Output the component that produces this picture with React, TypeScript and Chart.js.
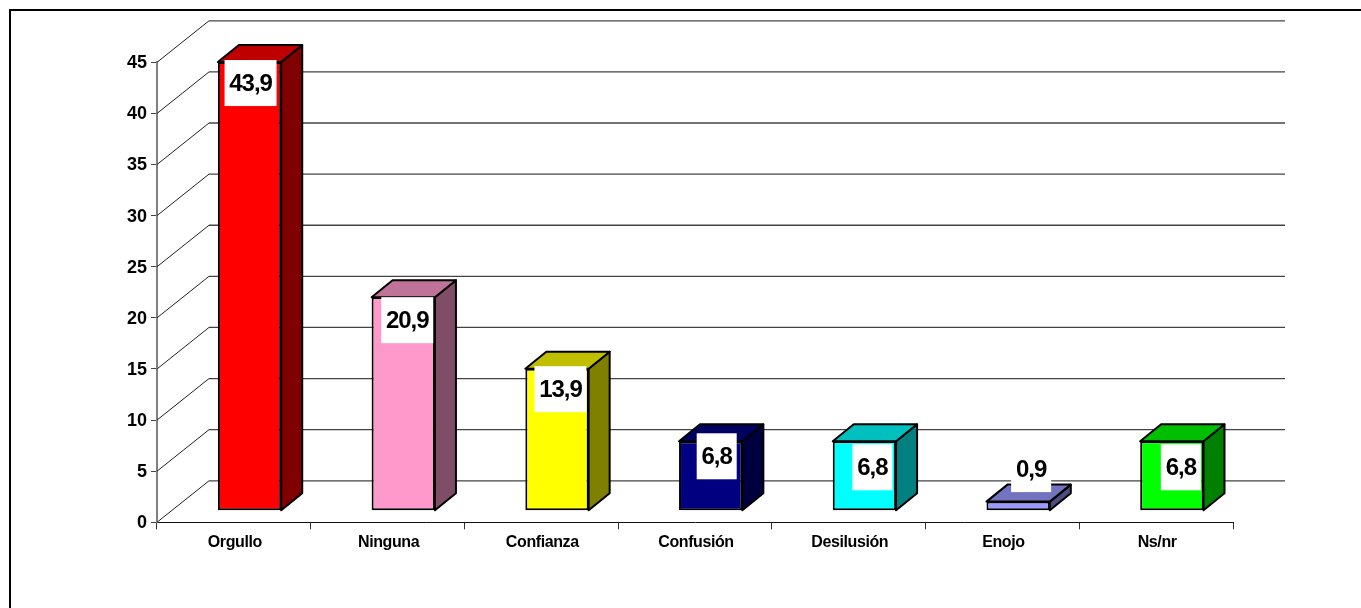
import React, { useEffect, useRef } from "react";
import { Chart, registerables } from "chart.js";

Chart.register(...registerables);

const categories = ["Orgullo", "Ninguna", "Confianza", "Confusión", "Desilusión", "Enojo", "Ns/nr"];
const values = [43.9, 20.9, 13.9, 6.8, 6.8, 0.9, 6.8];
const valueLabels = ["43,9", "20,9", "13,9", "6,8", "6,8", "0,9", "6,8"];
const frontColors = ["#ff0000", "#ff99cc", "#ffff00", "#000080", "#00ffff", "#9999ff", "#00ff00"];
const topColors = ["#bf0000", "#bf7399", "#bfbf00", "#000060", "#00bfbf", "#7373bf", "#00bf00"];
const sideColors = ["#800000", "#804d66", "#808000", "#000040", "#008080", "#4d4d80", "#008000"];
const labelNudgeX = [1, 4, 3.5, 6, 8, 13, 9];
const labelNudgeY = [21, 23, 20.5, 15, 26, -32.5, 26];
const labelBoxWidths = [52, 52, 52, 40, 40, 40, 40];

const FONT = '"Liberation Sans", Arial, sans-serif';
const WALL_DX = 52;
const WALL_DY = -41.5;
const BAR_DX = 15.7;
const BAR_DY = -11.5;
const DEPTH_DX = 21;
const DEPTH_DY = -17;

const poly = (ctx: CanvasRenderingContext2D, pts: number[][], fill: string) => {
  ctx.beginPath();
  pts.forEach(([x, y], i) => (i ? ctx.lineTo(x, y) : ctx.moveTo(x, y)));
  ctx.closePath();
  ctx.fillStyle = fill;
  ctx.fill();
  ctx.lineWidth = 2;
  ctx.strokeStyle = "#000";
  ctx.lineJoin = "round";
  ctx.stroke();
};

const scene3d = {
  id: "scene3d",
  beforeDraw(chart: any) {
    const { ctx, width, height } = chart;
    ctx.save();
    ctx.fillStyle = "#fff";
    ctx.fillRect(0, 0, width, height);
    ctx.strokeStyle = "#000";
    ctx.lineWidth = 2;
    ctx.beginPath();
    ctx.moveTo(10, height);
    ctx.lineTo(10, 10);
    ctx.lineTo(width, 10);
    ctx.stroke();
    ctx.restore();
  },
  beforeDatasetsDraw(chart: any) {
    const { ctx, scales, chartArea } = chart;
    const y = scales.y;
    ctx.save();
    y.ticks.forEach((t: any) => {
      const py = y.getPixelForValue(t.value);
      ctx.beginPath();
      ctx.moveTo(chartArea.left, py);
      ctx.lineTo(chartArea.left + WALL_DX, py + WALL_DY);
      ctx.strokeStyle = "#222";
      ctx.lineWidth = 1;
      ctx.stroke();
      ctx.beginPath();
      ctx.moveTo(chartArea.left + WALL_DX, py + WALL_DY);
      ctx.lineTo(chartArea.right + WALL_DX, py + WALL_DY);
      ctx.strokeStyle = "#444";
      ctx.lineWidth = 1.3;
      ctx.stroke();
    });
    const bars = chart.getDatasetMeta(0).data;
    bars.forEach((bar: any, i: number) => {
      const x0 = bar.x - bar.width / 2 + BAR_DX;
      const x1 = bar.x + bar.width / 2 + BAR_DX;
      const top = bar.y + BAR_DY;
      const base = bar.base + BAR_DY;
      poly(ctx, [[x1, top], [x1 + DEPTH_DX, top + DEPTH_DY], [x1 + DEPTH_DX, base + DEPTH_DY], [x1, base]], sideColors[i]);
      poly(ctx, [[x0, top], [x1, top], [x1 + DEPTH_DX, top + DEPTH_DY], [x0 + DEPTH_DX, top + DEPTH_DY]], topColors[i]);
    });
    ctx.restore();
    ctx.save();
    ctx.translate(BAR_DX, BAR_DY);
  },
  afterDatasetsDraw(chart: any) {
    const { ctx } = chart;
    ctx.restore();
    const bars = chart.getDatasetMeta(0).data;
    ctx.save();
    bars.forEach((bar: any, i: number) => {
      const cx = bar.x + BAR_DX + labelNudgeX[i];
      const cy = bar.y + BAR_DY + labelNudgeY[i];
      const w = labelBoxWidths[i];
      ctx.fillStyle = "#fff";
      ctx.fillRect(cx - w / 2, cy - 23, w, 46);
      ctx.fillStyle = "#000";
      ctx.font = `bold 24px ${FONT}`;
      ctx.letterSpacing = "-1px";
      ctx.textAlign = "center";
      ctx.textBaseline = "middle";
      ctx.fillText(valueLabels[i], cx, cy + 1);
    });
    ctx.restore();
  },
};

export default function App() {
  const ref = useRef<HTMLCanvasElement>(null);
  useEffect(() => {
    document.body.style.margin = "0";
    const chart = new Chart(ref.current!, {
      type: "bar",
      data: {
        labels: categories,
        datasets: [
          {
            data: values,
            backgroundColor: frontColors,
            borderColor: "#000",
            borderWidth: 2,
            borderSkipped: false,
            inflateAmount: 0,
            clip: false,
            categoryPercentage: 1,
            barPercentage: 0.412,
          } as any,
        ],
      },
      options: {
        animation: false,
        responsive: false,
        events: [],
        layout: { padding: { top: 62.3, right: 128, left: 0, bottom: 0 } },
        plugins: { legend: { display: false }, tooltip: { enabled: false }, title: { display: false } },
        scales: {
          x: {
            afterFit: (s: any) => {
              s.height = 85.7;
            },
            afterUpdate: (s: any) => {
              if (s.__spaced) return;
              s.__spaced = true;
              const draw = s.drawLabels;
              s.drawLabels = function (area: any) {
                const c = this.ctx;
                c.save();
                c.letterSpacing = "-0.4px";
                c.translate(1, -1);
                draw.call(this, area);
                c.restore();
              };
            },
            grid: { display: true, drawOnChartArea: false, drawTicks: true, tickLength: 7, color: "#333", lineWidth: 1, offset: true },
            border: { display: true, color: "#111", width: 1 },
            ticks: { color: "#000", padding: 5, maxRotation: 0, autoSkip: false, font: { family: FONT, size: 16, weight: "bold" } },
          },
          y: {
            min: 0,
            max: 45,
            afterFit: (s: any) => {
              s.width = 157;
            },
            afterUpdate: (s: any) => {
              if (s.__shifted) return;
              s.__shifted = true;
              const draw = s.drawLabels;
              s.drawLabels = function (area: any) {
                const c = this.ctx;
                c.save();
                c.translate(0, 1);
                draw.call(this, area);
                c.restore();
              };
            },
            grid: { display: true, drawOnChartArea: false, drawTicks: true, tickLength: 6, color: "#444", lineWidth: 1 },
            border: { display: true, color: "#808080", width: 2 },
            ticks: { stepSize: 5, color: "#000", padding: 4, font: { family: FONT, size: 18, weight: "bold" } },
          },
        },
      } as any,
      plugins: [scene3d as any],
    });
    return () => chart.destroy();
  }, []);
  return <canvas ref={ref} width={1361} height={608} style={{ position: "fixed", left: 0, top: 0, display: "block" }} />;
}
